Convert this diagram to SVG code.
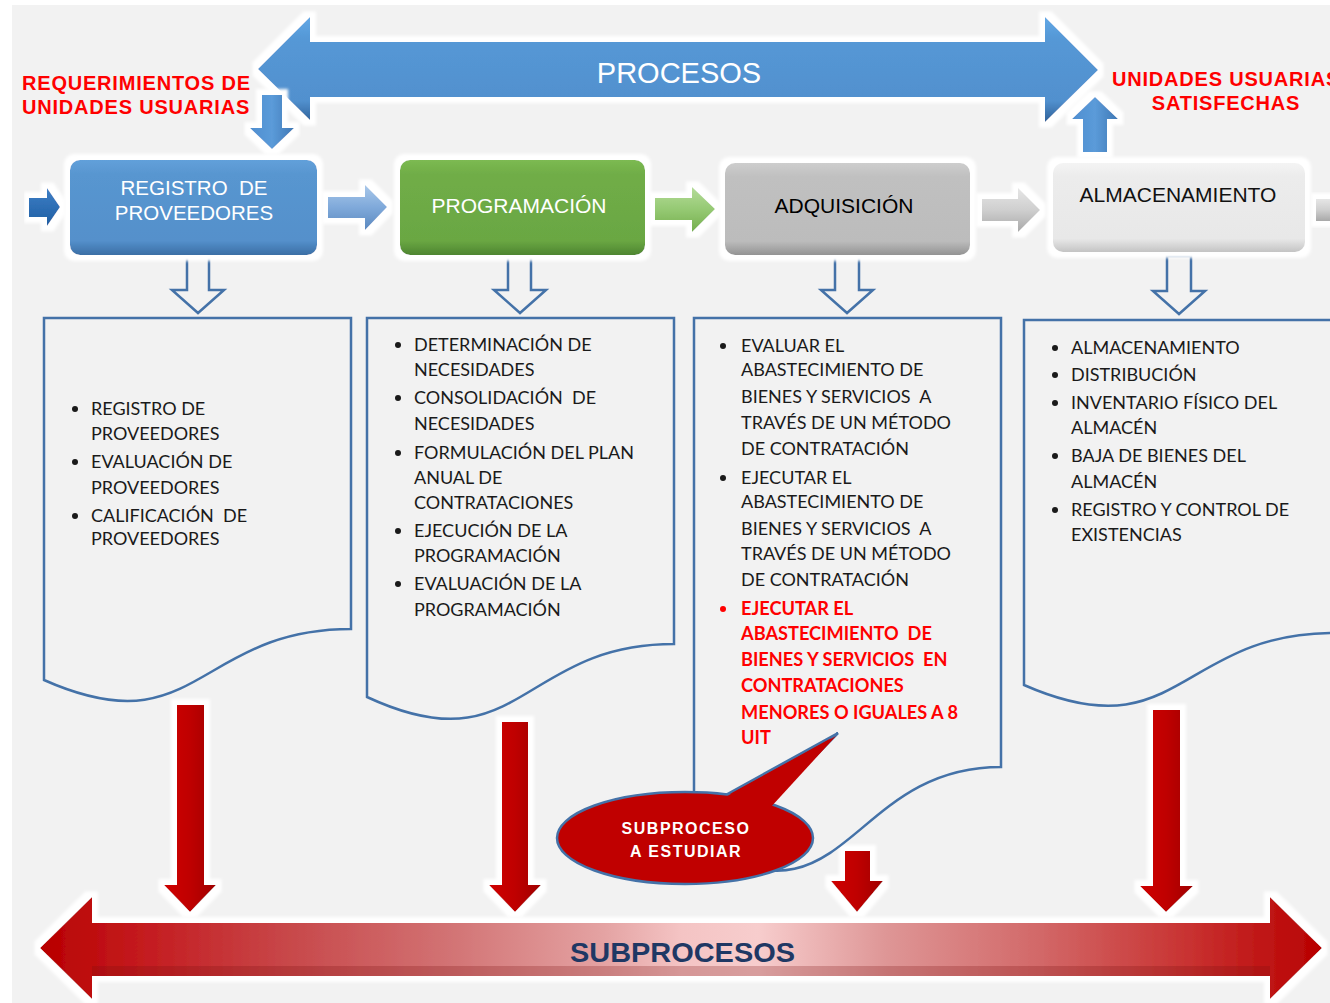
<svg xmlns="http://www.w3.org/2000/svg" width="1330" height="1003" viewBox="0 0 1330 1003">
  <defs>
    <style>
      .lbl { font-family: "Liberation Sans", Arial, sans-serif; }
      .red { font-family: "Liberation Sans", Arial, sans-serif; font-weight: bold; font-size: 20px; fill: #ff0000; letter-spacing: 0.8px; }
      .item { font-family: Lato, "Open Sans", sans-serif; font-size: 18px; fill: #1a1a1a; }
      .itemred { font-family: Lato, "Open Sans", sans-serif; font-size: 18.2px; font-weight: bold; fill: #ff0000; }
      .doc { fill: none; stroke: #4472a8; stroke-width: 2.5; }
      .hollow { fill: #f2f2f2; stroke: #4472a8; stroke-width: 2.5; stroke-linejoin: miter; }
      .bul { fill: #1a1a1a; }
    </style>
    <filter id="glow" x="-15%" y="-30%" width="130%" height="160%">
      <feMorphology in="SourceAlpha" operator="dilate" radius="6" result="d"/>
      <feGaussianBlur in="d" stdDeviation="1.5" result="b"/>
      <feFlood flood-color="#ffffff"/>
      <feComposite in2="b" operator="in" result="g"/>
      <feMerge><feMergeNode in="g"/><feMergeNode in="SourceGraphic"/></feMerge>
    </filter>
    <linearGradient id="gBlueBar" x1="0" y1="0" x2="0" y2="1">
      <stop offset="0" stop-color="#62a8e6"/>
      <stop offset="0.2" stop-color="#5598d6"/>
      <stop offset="0.8" stop-color="#5190ce"/>
      <stop offset="1" stop-color="#2f6199"/>
    </linearGradient>
    <linearGradient id="gBlueBox" x1="0" y1="0" x2="0" y2="1">
      <stop offset="0" stop-color="#62a0da"/>
      <stop offset="0.15" stop-color="#5896d0"/>
      <stop offset="0.85" stop-color="#5490cb"/>
      <stop offset="1" stop-color="#3b6ea5"/>
    </linearGradient>
    <linearGradient id="gGreenBox" x1="0" y1="0" x2="0" y2="1">
      <stop offset="0" stop-color="#7cba52"/>
      <stop offset="0.15" stop-color="#70ad47"/>
      <stop offset="0.85" stop-color="#6aa743"/>
      <stop offset="1" stop-color="#4e8530"/>
    </linearGradient>
    <linearGradient id="gGrayBox" x1="0" y1="0" x2="0" y2="1">
      <stop offset="0" stop-color="#cdcdcd"/>
      <stop offset="0.15" stop-color="#c0c0c0"/>
      <stop offset="0.85" stop-color="#bcbcbc"/>
      <stop offset="1" stop-color="#939393"/>
    </linearGradient>
    <linearGradient id="gLightBox" x1="0" y1="0" x2="0" y2="1">
      <stop offset="0" stop-color="#f4f4f4"/>
      <stop offset="0.15" stop-color="#ececec"/>
      <stop offset="0.85" stop-color="#e8e8e8"/>
      <stop offset="1" stop-color="#c4c4c4"/>
    </linearGradient>
    <linearGradient id="gArrBlue" x1="0" y1="0" x2="0" y2="1">
      <stop offset="0" stop-color="#a9c8ea"/>
      <stop offset="0.5" stop-color="#7fa9da"/>
      <stop offset="1" stop-color="#5a88bf"/>
    </linearGradient>
    <linearGradient id="gArrDark" x1="0" y1="0" x2="0" y2="1">
      <stop offset="0" stop-color="#3d7fc6"/>
      <stop offset="1" stop-color="#1f5ea3"/>
    </linearGradient>
    <linearGradient id="gArrGreen" x1="0" y1="0" x2="0" y2="1">
      <stop offset="0" stop-color="#b5dc99"/>
      <stop offset="0.5" stop-color="#95c973"/>
      <stop offset="1" stop-color="#74ae4d"/>
    </linearGradient>
    <linearGradient id="gArrGray" x1="0" y1="0" x2="0" y2="1">
      <stop offset="0" stop-color="#e6e6e6"/>
      <stop offset="0.5" stop-color="#cfcfcf"/>
      <stop offset="1" stop-color="#a8a8a8"/>
    </linearGradient>
    <linearGradient id="gUpBlue" x1="0" y1="0" x2="1" y2="0">
      <stop offset="0" stop-color="#4f8ed0"/>
      <stop offset="0.5" stop-color="#5b9bd9"/>
      <stop offset="1" stop-color="#3f78b5"/>
    </linearGradient>
    <linearGradient id="gRedDown" x1="0" y1="0" x2="1" y2="0">
      <stop offset="0" stop-color="#d00000"/>
      <stop offset="0.5" stop-color="#bf0000"/>
      <stop offset="1" stop-color="#a00000"/>
    </linearGradient>
    <linearGradient id="gRedBar" x1="40" y1="0" x2="1322" y2="0" gradientUnits="userSpaceOnUse">
      <stop offset="0" stop-color="#b80000"/>
      <stop offset="0.08" stop-color="#c41b1f"/>
      <stop offset="0.2" stop-color="#c84a4c"/>
      <stop offset="0.32" stop-color="#d27374"/>
      <stop offset="0.44" stop-color="#e4a3a3"/>
      <stop offset="0.5" stop-color="#f4c4c4"/>
      <stop offset="0.56" stop-color="#f7cdcd"/>
      <stop offset="0.66" stop-color="#de9696"/>
      <stop offset="0.78" stop-color="#d26868"/>
      <stop offset="0.9" stop-color="#c8302f"/>
      <stop offset="1" stop-color="#b80000"/>
    </linearGradient>
  </defs>

  <!-- canvas -->
  <rect x="0" y="0" width="1330" height="1003" fill="#ffffff"/>
  <rect x="12" y="5" width="1318" height="998" fill="#f2f2f2"/>

  <!-- top band: main process flow -->
  <g id="procesos">
    <path d="M258,69 L310,17 L310,42 L1045,42 L1045,17 L1098,70 L1045,122 L1045,97 L310,97 L310,120 Z" fill="url(#gBlueBar)" filter="url(#glow)"/>
    <text class="lbl" x="679" y="83" font-size="29" fill="#ffffff" text-anchor="middle">PROCESOS</text>
  </g>

  <g id="req-label">
    <text class="red" x="22" y="90">REQUERIMIENTOS DE</text>
    <text class="red" x="22" y="114">UNIDADES USUARIAS</text>
  </g>
  <g id="sat-label">
    <text class="red" x="1112" y="86">UNIDADES USUARIAS</text>
    <text class="red" x="1226" y="110" text-anchor="middle">SATISFECHAS</text>
  </g>

  <!-- connectors -->
  <g id="connectors">
    <!-- requirement in -->
    <path d="M262,95 L282,95 L282,128 L294,128 L272,149 L250,128 L262,128 Z" fill="url(#gUpBlue)" filter="url(#glow)"/>
    <!-- satisfied out -->
    <path d="M1083,152 L1107,152 L1107,119 L1118,119 L1095,97 L1072,119 L1083,119 Z" fill="url(#gUpBlue)" filter="url(#glow)"/>
    <!-- flow between process boxes -->
    <path d="M29,198 L47,198 L47,188 L60,207 L47,226 L47,217 L29,217 Z" fill="url(#gArrDark)" filter="url(#glow)"/>
    <path d="M328,197 L365,197 L365,185 L387,207 L365,230 L365,218 L328,218 Z" fill="url(#gArrBlue)" filter="url(#glow)"/>
    <path d="M655,198 L692,198 L692,187 L715,209 L692,232 L692,220 L655,220 Z" fill="url(#gArrGreen)" filter="url(#glow)"/>
    <path d="M982,199 L1018,199 L1018,188 L1040,210 L1018,232 L1018,221 L982,221 Z" fill="url(#gArrGray)" filter="url(#glow)"/>
    <path d="M1316,199 L1345,199 L1345,221 L1316,221 Z" fill="url(#gArrGray)" filter="url(#glow)"/>

    <!-- process box to activity list -->
    <path class="hollow" d="M187,256 L209,256 L209,290 L224,290 L198,313 L172,290 L187,290 Z"/>
    <path class="hollow" d="M508,256 L531,256 L531,290 L546,290 L520,313 L494,290 L508,290 Z"/>
    <path class="hollow" d="M835,256 L859,256 L859,290 L873,290 L847,313 L821,290 L835,290 Z"/>
    <path class="hollow" d="M1167,256 L1191,256 L1191,291 L1205,291 L1179,314 L1153,291 L1167,291 Z"/>

    <!-- activity lists to subprocesses -->
    <path d="M177,705 L204,705 L204,885 L216,885 L190,912 L164,885 L177,885 Z" fill="url(#gRedDown)" filter="url(#glow)"/>
    <path d="M502,722 L528,722 L528,885 L541,885 L515,912 L489,885 L502,885 Z" fill="url(#gRedDown)" filter="url(#glow)"/>
    <path d="M845,851 L870,851 L870,881 L883,881 L857,912 L831,881 L845,881 Z" fill="url(#gRedDown)" filter="url(#glow)"/>
    <path d="M1153,710 L1180,710 L1180,886 L1193,886 L1166,912 L1140,886 L1153,886 Z" fill="url(#gRedDown)" filter="url(#glow)"/>
  </g>

  <!-- process boxes -->
  <g id="registro">
    <rect x="70" y="160" width="247" height="95" rx="10" fill="url(#gBlueBox)" filter="url(#glow)"/>
    <text class="lbl" font-size="20.5" fill="#ffffff" text-anchor="middle" xml:space="preserve"><tspan x="194" y="195">REGISTRO  DE</tspan><tspan x="194" y="220">PROVEEDORES</tspan></text>
  </g>
  <g id="programacion">
    <rect x="400" y="160" width="245" height="95" rx="10" fill="url(#gGreenBox)" filter="url(#glow)"/>
    <text class="lbl" x="519" y="213" font-size="21" fill="#ffffff" text-anchor="middle">PROGRAMACIÓN</text>
  </g>
  <g id="adquisicion">
    <rect x="725" y="163" width="245" height="92" rx="10" fill="url(#gGrayBox)" filter="url(#glow)"/>
    <text class="lbl" x="844" y="213" font-size="21" fill="#000000" text-anchor="middle">ADQUISICIÓN</text>
  </g>
  <g id="almacenamiento">
    <rect x="1053" y="163" width="252" height="89" rx="10" fill="url(#gLightBox)" filter="url(#glow)"/>
    <text class="lbl" x="1178" y="202" font-size="21" fill="#111111" text-anchor="middle">ALMACENAMIENTO</text>
  </g>

  <!-- activity lists -->
  <g id="lista-registro">
    <path class="doc" d="M44,318 L351,318 L351,629 C197,629 197,748 44,680 Z"/>
    <g class="bul"><circle cx="75" cy="409" r="3"/><circle cx="75" cy="462" r="3"/><circle cx="75" cy="516" r="3"/></g>
    <text class="item" xml:space="preserve"><tspan x="91" y="415">REGISTRO DE</tspan><tspan x="91" y="440">PROVEEDORES</tspan><tspan x="91" y="468">EVALUACIÓN DE</tspan><tspan x="91" y="494">PROVEEDORES</tspan><tspan x="91" y="522">CALIFICACIÓN  DE</tspan><tspan x="91" y="545">PROVEEDORES</tspan></text>
  </g>

  <g id="lista-programacion">
    <path class="doc" d="M367,318 L674,318 L674,644 C520,644 520,768 367,697 Z"/>
    <g class="bul"><circle cx="398" cy="345" r="3"/><circle cx="398" cy="398" r="3"/><circle cx="398" cy="453" r="3"/><circle cx="398" cy="531" r="3"/><circle cx="398" cy="584" r="3"/></g>
    <text class="item" xml:space="preserve"><tspan x="414" y="351">DETERMINACIÓN DE</tspan><tspan x="414" y="376">NECESIDADES</tspan><tspan x="414" y="404">CONSOLIDACIÓN  DE</tspan><tspan x="414" y="430">NECESIDADES</tspan><tspan x="414" y="459">FORMULACIÓN DEL PLAN</tspan><tspan x="414" y="484">ANUAL DE</tspan><tspan x="414" y="509">CONTRATACIONES</tspan><tspan x="414" y="537">EJECUCIÓN DE LA</tspan><tspan x="414" y="562">PROGRAMACIÓN</tspan><tspan x="414" y="590">EVALUACIÓN DE LA</tspan><tspan x="414" y="616">PROGRAMACIÓN</tspan></text>
  </g>

  <g id="lista-adquisicion">
    <path class="doc" d="M694,318 L1001,318 L1001,767 C847,767 847,938 694,841 Z"/>
    <g class="bul"><circle cx="723" cy="346" r="3"/><circle cx="723" cy="478" r="3"/></g>
    <circle cx="723" cy="609" r="3" fill="#ff0000"/>
    <text class="item" xml:space="preserve"><tspan x="741" y="352">EVALUAR EL</tspan><tspan x="741" y="376">ABASTECIMIENTO DE</tspan><tspan x="741" y="403">BIENES Y SERVICIOS  A</tspan><tspan x="741" y="429">TRAVÉS DE UN MÉTODO</tspan><tspan x="741" y="455">DE CONTRATACIÓN</tspan><tspan x="741" y="484">EJECUTAR EL</tspan><tspan x="741" y="508">ABASTECIMIENTO DE</tspan><tspan x="741" y="535">BIENES Y SERVICIOS  A</tspan><tspan x="741" y="560">TRAVÉS DE UN MÉTODO</tspan><tspan x="741" y="586">DE CONTRATACIÓN</tspan></text>
    <text class="itemred" xml:space="preserve"><tspan x="741" y="615">EJECUTAR EL</tspan><tspan x="741" y="640">ABASTECIMIENTO  DE</tspan><tspan x="741" y="666">BIENES Y SERVICIOS  EN</tspan><tspan x="741" y="692">CONTRATACIONES</tspan><tspan x="741" y="719">MENORES O IGUALES A 8</tspan><tspan x="741" y="744">UIT</tspan></text>
  </g>

  <g id="lista-almacenamiento">
    <path class="doc" d="M1024,320 L1334,320 L1334,633 C1179,633 1179,753 1024,685 Z"/>
    <g class="bul"><circle cx="1055" cy="348" r="3"/><circle cx="1055" cy="375" r="3"/><circle cx="1055" cy="403" r="3"/><circle cx="1055" cy="456" r="3"/><circle cx="1055" cy="510" r="3"/></g>
    <text class="item" xml:space="preserve"><tspan x="1071" y="354">ALMACENAMIENTO</tspan><tspan x="1071" y="381">DISTRIBUCIÓN</tspan><tspan x="1071" y="409">INVENTARIO FÍSICO DEL</tspan><tspan x="1071" y="434">ALMACÉN</tspan><tspan x="1071" y="462">BAJA DE BIENES DEL</tspan><tspan x="1071" y="488">ALMACÉN</tspan><tspan x="1071" y="516">REGISTRO Y CONTROL DE</tspan><tspan x="1071" y="541">EXISTENCIAS</tspan></text>
  </g>

  <!-- callout -->
  <g id="subproceso-estudiar">
    <path d="M722,797 L838,733 L768,804 Z" fill="#c00000" stroke="#4472a8" stroke-width="2.5" stroke-linejoin="miter"/>
    <ellipse cx="685" cy="838" rx="128" ry="46" fill="#c00000" stroke="#4472a8" stroke-width="2.5"/>
    <path d="M720,800 L836,736 L770,808 L760,812 Z" fill="#c00000"/>
    <text class="lbl" font-size="16" font-weight="bold" fill="#ffffff" text-anchor="middle" letter-spacing="1.5"><tspan x="686" y="834">SUBPROCESO</tspan><tspan x="686" y="857">A ESTUDIAR</tspan></text>
  </g>

  <!-- bottom band: subprocesses -->
  <g id="subprocesos">
    <g filter="url(#glow)">
      <path d="M40,948 L92,897 L92,923 L1270,923 L1270,897 L1322,948 L1270,999 L1270,976 L92,976 L92,999 Z" fill="url(#gRedBar)"/>
    </g>
    <path d="M92,966 L1270,966 L1270,976 L92,976 Z" fill="#7a1010" opacity="0.25"/>
    <text class="lbl" x="570" y="962" font-size="28" font-weight="bold" fill="#1f3864" textLength="225" lengthAdjust="spacingAndGlyphs">SUBPROCESOS</text>
  </g>
</svg>
